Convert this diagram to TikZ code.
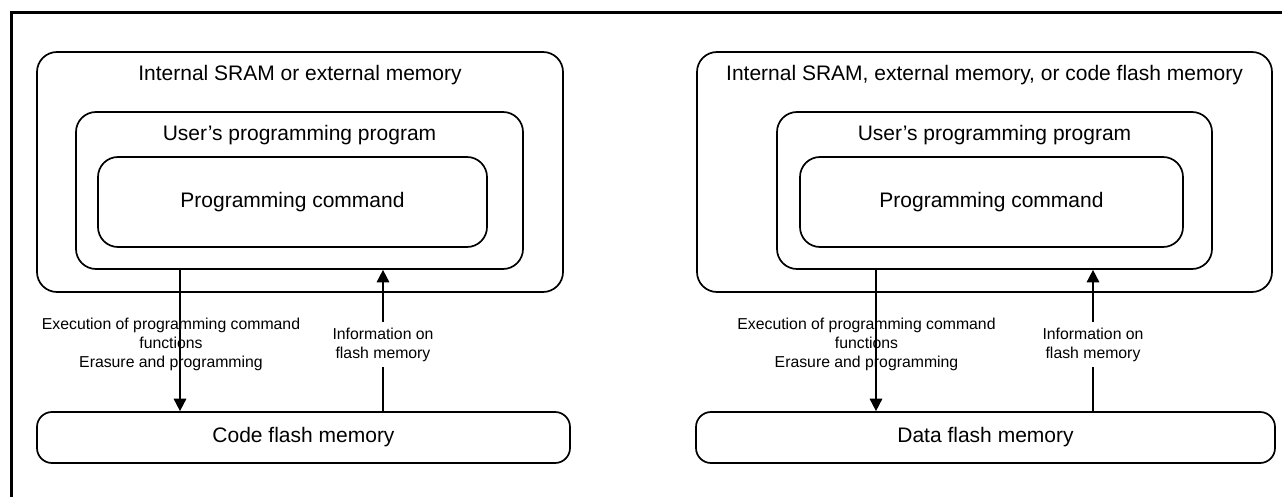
\documentclass[tikz,border=0pt]{standalone}
\usepackage{fontspec}
\setmainfont{Liberation Sans}
\usetikzlibrary{arrows.meta}
\begin{document}
\begin{tikzpicture}[x=1pt,y=-1pt,
  box/.style={draw, line width=1.7pt, rounded corners=20pt, inner sep=0pt},
  flashbox/.style={draw, line width=1.7pt, rounded corners=15pt, inner sep=0pt, font=\fontsize{21}{25}\selectfont},
  big/.style={font=\fontsize{21}{25}\selectfont, inner sep=0pt},
  small/.style={font=\fontsize{15.8}{19}\selectfont, align=center, inner sep=0pt},
  info/.style={small, fill=white, inner sep=6pt},
  arr/.style={line width=1.7pt, -{Triangle[width=12.5pt,length=12.5pt]}},
  frame/.style={line width=3pt}
]
\useasboundingbox (0,0) rectangle (1282,497);
% frame (top and left edges only)
\draw[frame] (11.5,497) -- (11.5,13) -- (1282,13);

% ---------- left diagram ----------
\node[box, minimum width=526pt, minimum height=240pt] (outerL) at (300,172) {};
\node[box, minimum width=447pt, minimum height=157pt] (innerL) at (299.5,190.5) {};
\node[box, minimum width=389pt, minimum height=90pt, big] (cmdL) at (292.5,202) {Programming command};
\node[flashbox, minimum width=533pt, minimum height=51pt] (flashL) at (303.5,437.5) {Code flash memory};
\node[big] (titleL) at (300,75) {Internal SRAM or external memory};
\node[big] (userL) at (299.5,135) {User’s programming program};
\coordinate (dL) at (180,0);
\coordinate (uL) at (383,0);
\draw[arr] (innerL.south -| dL) -- (flashL.north -| dL);
\draw[arr] (flashL.north -| uL) -- (innerL.south -| uL);
\node[small] (execL) at (171,344) {Execution of programming command\\functions\\Erasure and programming};
\node[info] (infoL) at (383,344.5) {Information on\\flash memory};

% ---------- right diagram ----------
\node[box, minimum width=575pt, minimum height=240pt] (outerR) at (984.5,172) {};
\node[box, minimum width=435pt, minimum height=157pt] (innerR) at (994.5,190.5) {};
\node[box, minimum width=383pt, minimum height=90pt, big] (cmdR) at (991.5,202) {Programming command};
\node[flashbox, minimum width=579pt, minimum height=51pt] (flashR) at (985.5,437.5) {Data flash memory};
\node[big] (titleR) at (984.5,75) {Internal SRAM, external memory, or code flash memory};
\node[big] (userR) at (994.5,135) {User’s programming program};
\coordinate (dR) at (876,0);
\coordinate (uR) at (1093,0);
\draw[arr] (innerR.south -| dR) -- (flashR.north -| dR);
\draw[arr] (flashR.north -| uR) -- (innerR.south -| uR);
\node[small] (execR) at (866.5,344) {Execution of programming command\\functions\\Erasure and programming};
\node[info] (infoR) at (1093,344.5) {Information on\\flash memory};
\end{tikzpicture}
\end{document}
